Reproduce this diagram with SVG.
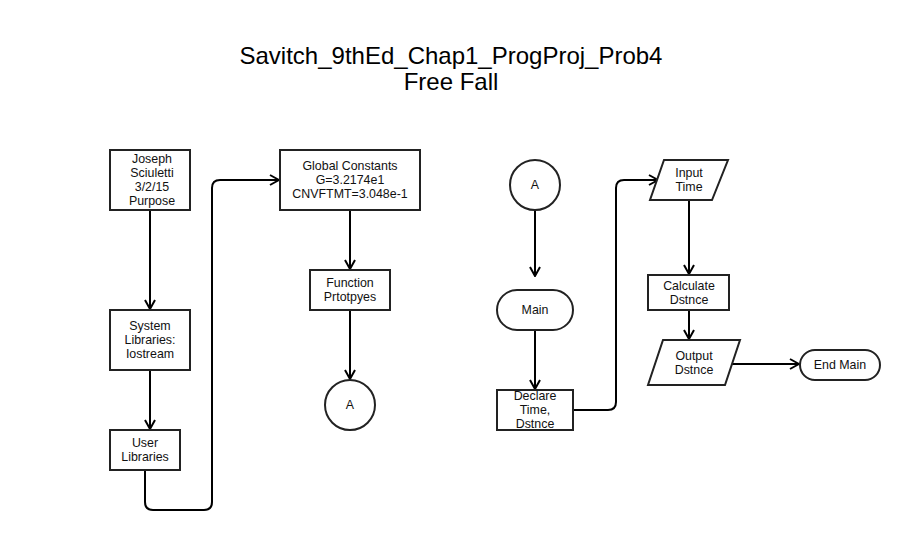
<svg xmlns="http://www.w3.org/2000/svg" width="906" height="534" viewBox="0 0 906 534">
<style>
.n{fill:#fff;stroke:#222;stroke-width:2}
.t{font-family:"Liberation Sans",Arial,sans-serif;font-size:12.4px;fill:#111;text-anchor:middle}
.title{font-family:"Liberation Sans",Arial,sans-serif;font-size:24px;fill:#000;text-anchor:middle}
.c{fill:none;stroke:#000;stroke-width:2;stroke-linejoin:round}
</style>
<defs>
<marker id="ar" viewBox="0 0 12 12" refX="11" refY="6" markerWidth="12" markerHeight="12" markerUnits="userSpaceOnUse" orient="auto">
<path d="M2,1 L11,6 L2,11" fill="none" stroke="#000" stroke-width="2"/>
</marker>
</defs>
<rect width="906" height="534" fill="#fff"/>
<g id="title">
<text class="title" x="451" y="64">Savitch_9thEd_Chap1_ProgProj_Prob4</text>
<text class="title" x="451" y="90">Free Fall</text>
</g>
<g id="connectors">
<path class="c" d="M150,210 L150,309" marker-end="url(#ar)"/>
<path class="c" d="M150,370 L150,429" marker-end="url(#ar)"/>
<path class="c" d="M145,470 L145,502 Q145,510 153,510 L204,510 Q212,510 212,502 L212,188 Q212,180 220,180 L279,180" marker-end="url(#ar)"/>
<path class="c" d="M350,210 L350,269" marker-end="url(#ar)"/>
<path class="c" d="M350,310 L350,379" marker-end="url(#ar)"/>
<path class="c" d="M535,210 L535,276" marker-end="url(#ar)"/>
<path class="c" d="M535,330 L535,389" marker-end="url(#ar)"/>
<path class="c" d="M573,410 L608,410 Q616,410 616,402 L616,188 Q616,180 624,180 L658,180" marker-end="url(#ar)"/>
<path class="c" d="M689,200 L689,274" marker-end="url(#ar)"/>
<path class="c" d="M689,310 L689,339" marker-end="url(#ar)"/>
<path class="c" d="M732,364 L799,364" marker-end="url(#ar)"/>
</g>
<g id="n1"><rect class="n" x="110" y="150" width="80" height="60"/>
<text class="t" x="152" y="163">Joseph</text><text class="t" x="152" y="177">Sciuletti</text><text class="t" x="152" y="191">3/2/15</text><text class="t" x="152" y="205">Purpose</text></g>
<g id="n2"><rect class="n" x="110" y="310" width="80" height="60"/>
<text class="t" x="150" y="330">System</text><text class="t" x="150" y="344">Libraries:</text><text class="t" x="150" y="358">Iostream</text></g>
<g id="n3"><rect class="n" x="110" y="430" width="70" height="40"/>
<text class="t" x="145" y="447">User</text><text class="t" x="145" y="461">Libraries</text></g>
<g id="n4"><rect class="n" x="280" y="150" width="140" height="60"/>
<text class="t" x="350" y="170">Global Constants</text><text class="t" x="350" y="184">G=3.2174e1</text><text class="t" x="350" y="198">CNVFTMT=3.048e-1</text></g>
<g id="n5"><rect class="n" x="310" y="270" width="80" height="40"/>
<text class="t" x="350" y="287">Function</text><text class="t" x="350" y="301">Prtotpyes</text></g>
<g id="n6"><circle class="n" cx="350" cy="405" r="25"/>
<text class="t" x="350" y="409">A</text></g>
<g id="n7"><circle class="n" cx="535" cy="185" r="25"/>
<text class="t" x="535" y="189">A</text></g>
<g id="n8"><rect class="n" x="497" y="290" width="76" height="40" rx="20"/>
<text class="t" x="535" y="314">Main</text></g>
<g id="n9"><rect class="n" x="497" y="390" width="76" height="40"/>
<text class="t" x="535" y="400">Declare</text><text class="t" x="535" y="414">Time,</text><text class="t" x="535" y="428">Dstnce</text></g>
<g id="n10"><polygon class="n" points="664,160 728,160 712,200 650,200"/>
<text class="t" x="689" y="177">Input</text><text class="t" x="689" y="191">Time</text></g>
<g id="n11"><rect class="n" x="648" y="275" width="81" height="35"/>
<text class="t" x="689" y="290">Calculate</text><text class="t" x="689" y="304">Dstnce</text></g>
<g id="n12"><polygon class="n" points="663,340 740,340 725,385 648,385"/>
<text class="t" x="694" y="360">Output</text><text class="t" x="694" y="374">Dstnce</text></g>
<g id="n13"><rect class="n" x="800" y="350" width="80" height="30" rx="15"/>
<text class="t" x="840" y="369">End Main</text></g>
</svg>
